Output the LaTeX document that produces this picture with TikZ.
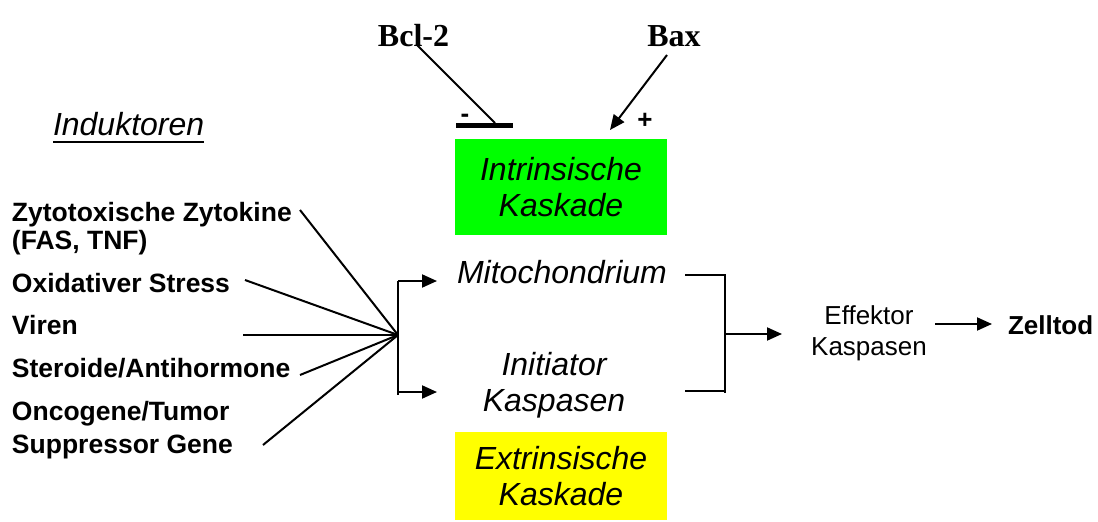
\documentclass[tikz,border=0pt]{standalone}
\usepackage{fontspec}
\setmainfont{Liberation Sans}
\newfontfamily\timesfont{Liberation Serif}
\usetikzlibrary{arrows.meta}
\definecolor{kgreen}{RGB}{0,255,0}
\definecolor{kyellow}{RGB}{255,255,0}
\begin{document}
\begin{tikzpicture}[x=1pt,y=-1pt,
  every node/.style={inner sep=0pt, outer sep=0pt},
  lbl/.style={font=\fontsize{26.5}{30}\selectfont\bfseries, anchor=base west},
  mid/.style={font=\fontsize{32}{36.5}\selectfont\itshape, align=center},
  kbox/.style={mid, minimum width=212pt},
  wire/.style={line width=2pt},
  arr/.style={wire, -{Triangle[length=15pt,width=13pt]}},
  prot/.style={font=\timesfont\fontsize{32}{36}\selectfont\bfseries, anchor=base},
  sign/.style={font=\fontsize{26}{30}\selectfont\bfseries, anchor=base}
]
\useasboundingbox (0,0) rectangle (1098,522);

% heading
\node[font=\fontsize{32}{36}\selectfont\itshape, anchor=base west] (ind) at (53,135) {Induktoren};
\draw[line width=2.5pt] ([yshift=-7pt]ind.base west) -- ([yshift=-7pt]ind.base east);

% inducers
\node[lbl] (zyto)  at (12,221) {Zytotoxische Zytokine};
\node[lbl] (fas)   at (12,249) {(FAS, TNF)};
\node[lbl] (oxid)  at (12,292) {Oxidativer Stress};
\node[lbl] (viren) at (12,334) {Viren};
\node[lbl] (stero) at (12,377) {Steroide/Antihormone};
\node[lbl] (onco)  at (12,420) {Oncogene/Tumor};
\node[lbl] (supp)  at (12,453) {Suppressor Gene};

% regulators
\node[prot] (bcl) at (413.5,46) {Bcl-2};
\node[prot] (bax) at (674,46) {Bax};
\node[sign] (minus) at (465,122) {-};
\node[sign] (plus)  at (645,128.5) {+};

% cascades and intermediate steps
\node[kbox, fill=kgreen,  minimum height=96pt] (intr) at (561,187) {Intrinsische\\Kaskade};
\node[kbox, fill=kyellow, minimum height=88pt] (extr) at (561,476) {Extrinsische\\Kaskade};
\node[mid] (mito) at (562,272.5) {Mitochondrium};
\node[mid] (init) at (554,385) {Initiator\\Kaspasen};
\node[font=\fontsize{26}{31}\selectfont, align=center] (eff) at (869,333) {Effektor\\Kaspasen};
\node[font=\fontsize{26}{30}\selectfont\bfseries, anchor=base west] (tod) at (1008,334) {Zelltod};

% connector end points
\coordinate (hub) at (398,335);
\coordinate (zyto-out)  at (300,210);
\coordinate (oxid-out)  at (245,280);
\coordinate (viren-out) at (243,335);
\coordinate (stero-out) at (300,375);
\coordinate (supp-out)  at (263,445);
\coordinate (forkT) at (398,281);
\coordinate (forkB) at (398,392);
\coordinate (forkEnd) at (398,395);
\coordinate (mito-in) at (437,281);
\coordinate (init-in) at (437,392);
\coordinate (mito-out) at (685,275);
\coordinate (init-out) at (685,391);
\coordinate (joinT) at (725,275);
\coordinate (joinB) at (725,393);
\coordinate (joinI) at (725,391);
\coordinate (joinM) at (725,334);
\coordinate (eff-in) at (782,334);
\coordinate (eff-out) at (935,324);
\coordinate (tod-in) at (992,324);
\coordinate (bcl-foot) at (417,45);
\coordinate (bar-hit) at (495,123);
\coordinate (barL) at (456,125);
\coordinate (barR) at (513,125);
\coordinate (bax-foot) at (667,55);
\coordinate (bax-tip) at (610,130);

% inducers converge
\foreach \s in {zyto-out, oxid-out, viren-out, stero-out, supp-out}
  \draw[wire] (\s) -- (hub);

% fork to mitochondrium and initiator caspases
\draw[wire] (forkT) -- (forkEnd);
\draw[arr] (forkT) -- (mito-in);
\draw[arr] (forkB) -- (init-in);

% join to effector caspases
\draw[wire] (mito-out) -- (joinT) -- (joinB);
\draw[wire] (init-out) -- (joinI);
\draw[arr] (joinM) -- (eff-in);
\draw[arr] (eff-out) -- (tod-in);

% regulation of the intrinsic cascade
\draw[wire] (bcl-foot) -- (bar-hit);
\draw[line width=5pt] (barL) -- (barR);
\draw[arr] (bax-foot) -- (bax-tip);
\end{tikzpicture}
\end{document}
